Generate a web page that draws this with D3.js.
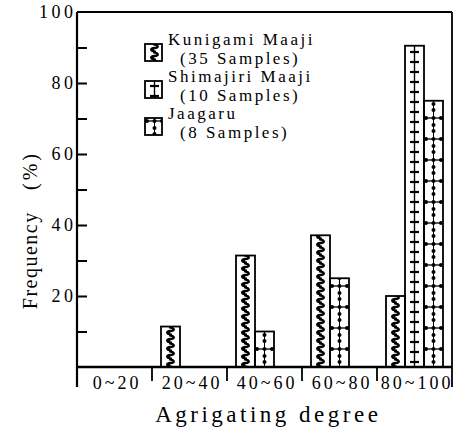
<!DOCTYPE html>
<html>
<head>
<meta charset="utf-8">
<script src="https://cdn.jsdelivr.net/npm/d3@7"></script>
<style>
  svg text { font-family: "Liberation Serif", "Times New Roman", Times, serif !important; }
</style>
</head>
<body style="margin:0">
<script>
// data
var categories = ["0~20", "20~40", "40~60", "60~80", "80~100"];
var seriesNames = ["Kunigami Maaji", "Shimajiri Maaji", "Jaagaru"];
var sampleLabels = ["(35 Samples)", "(10 Samples)", "(8 Samples)"];
var kunigami = [0, 11.4, 31.4, 37.1, 20];
var shimajiri = [0, 0, 0, 0, 90.5];
var jaagaru = [0, 0, 10, 25, 75];
var yLabelTicks = [20, 40, 60, 80, 100];
var yAllTicks = [10, 20, 30, 40, 50, 60, 70, 80, 90];

var seriesValues = [kunigami, shimajiri, jaagaru];
var patternIds = ["pat-wave", "pat-cross", "pat-dots"];

var width = 458, height = 431;
var margin = { top: 12, right: 6, bottom: 64, left: 77 };

var svg = d3.select("body").append("svg")
    .attr("width", width)
    .attr("height", height);

// serif text, letters spread out a bit via textLength
function label(sel, size, spacing) {
    sel.attr("font-family", "Liberation Serif")
        .attr("font-size", size)
        .attr("fill", "#000");
    sel.each(function() {
        var node = this;
        var n = node.textContent.length;
        var w = node.getComputedTextLength();
        if (n > 1 && spacing) {
            d3.select(node)
                .attr("textLength", w + (n - 1) * spacing)
                .attr("lengthAdjust", "spacing");
        }
    });
    return sel;
}

var x = d3.scaleBand()
    .domain(categories)
    .range([margin.left, width - margin.right]);

var y = d3.scaleLinear()
    .domain([0, 100])
    .range([height - margin.bottom, margin.top]);

var barW = 19, barOffset = 9;

// fill patterns
var defs = svg.append("defs");

var p1 = defs.append("pattern").attr("id", "pat-wave")
    .attr("patternUnits", "userSpaceOnUse")
    .attr("width", barW).attr("height", 8);
p1.append("path")
    .attr("d", "M8,0 C14,1 14,4 9.5,4 C5,4 5,7 11,8")
    .attr("fill", "none").attr("stroke", "#000").attr("stroke-width", 2.4);
p1.append("circle").attr("cx", 7.5).attr("cy", 5.8).attr("r", 1.8).attr("fill", "#000");

var p2 = defs.append("pattern").attr("id", "pat-cross")
    .attr("patternUnits", "userSpaceOnUse")
    .attr("width", barW).attr("height", 10);
p2.append("line").attr("x1", 9.5).attr("x2", 9.5).attr("y1", 0).attr("y2", 10)
    .attr("stroke", "#000").attr("stroke-width", 1.4);
p2.append("line").attr("x1", 5).attr("x2", 14).attr("y1", 5).attr("y2", 5)
    .attr("stroke", "#000").attr("stroke-width", 2.2);

var p3 = defs.append("pattern").attr("id", "pat-dots")
    .attr("patternUnits", "userSpaceOnUse")
    .attr("width", barW).attr("height", 21);
p3.append("line").attr("x1", 9.5).attr("x2", 9.5).attr("y1", 0).attr("y2", 21)
    .attr("stroke", "#000").attr("stroke-width", 1);
p3.append("line").attr("x1", 0).attr("x2", barW).attr("y1", 3).attr("y2", 3)
    .attr("stroke", "#000").attr("stroke-width", 1.3);
[[2, 3], [9.5, 3], [17, 3], [9.5, 10], [9.5, 16]].forEach(function(c) {
    p3.append("circle").attr("cx", c[0]).attr("cy", c[1]).attr("r", 2).attr("fill", "#000");
});

// bars: zero-valued series are skipped and the rest packed from the left
var bars = [];
categories.forEach(function(cat, j) {
    var k = 0;
    seriesValues.forEach(function(vals, i) {
        if (vals[j] > 0) {
            bars.push({ cat: cat, series: i, value: vals[j], slot: k });
            k++;
        }
    });
});

var barG = svg.append("g").attr("class", "bars")
    .selectAll("g")
    .data(bars)
    .enter().append("g")
    .attr("transform", function(d) {
        return "translate(" + (x(d.cat) + barOffset + d.slot * barW) + "," + y(0) + ")";
    });

barG.append("rect")
    .attr("x", 0)
    .attr("y", function(d) { return y(d.value) - y(0); })
    .attr("width", barW)
    .attr("height", function(d) { return y(0) - y(d.value); })
    .style("fill", function(d) { return "url(#" + patternIds[d.series] + ")"; })
    .style("stroke", "#000")
    .style("stroke-width", 1.8);

// frame
var x0 = margin.left, x1 = width - margin.right, yTop = margin.top, yBase = y(0);
var frame = svg.append("g").attr("class", "frame")
    .style("stroke", "#000").style("fill", "none");
frame.append("line").attr("x1", x0).attr("x2", x1).attr("y1", yTop).attr("y2", yTop).style("stroke-width", 1.8);
frame.append("line").attr("x1", x0).attr("x2", x0).attr("y1", yTop).attr("y2", yBase + 20).style("stroke-width", 2.2);
frame.append("line").attr("x1", x1).attr("x2", x1).attr("y1", yTop).attr("y2", yBase + 20).style("stroke-width", 1.8);
frame.append("line").attr("x1", x0).attr("x2", x1).attr("y1", yBase).attr("y2", yBase).style("stroke-width", 2.4);

// y axis ticks (inward) and labels
var yAxis = d3.axisRight(y)
    .tickValues(yAllTicks)
    .tickSize(10)
    .tickFormat("");
svg.append("g")
    .attr("transform", "translate(" + x0 + ",0)")
    .call(yAxis)
    .call(function(g) { g.select(".domain").remove(); g.selectAll("text").remove(); })
    .selectAll("line").style("stroke", "#000").style("stroke-width", 2);

svg.append("g").selectAll("text")
    .data(yLabelTicks)
    .enter().append("text")
    .attr("x", x0 - 4)
    .attr("y", function(d) { return y(d) + 6; })
    .attr("text-anchor", "end")
    .text(function(d) { return d; })
    .call(label, 18, 3.5);

// category separators and labels
svg.append("g").selectAll("line")
    .data(categories.slice(1))
    .enter().append("line")
    .attr("x1", function(d) { return x(d); })
    .attr("x2", function(d) { return x(d); })
    .attr("y1", yBase)
    .attr("y2", yBase + 14)
    .style("stroke", "#000").style("stroke-width", 1.8);

svg.append("g").selectAll("text")
    .data(categories)
    .enter().append("text")
    .attr("x", function(d) { return x(d) + x.bandwidth() / 2 + 1; })
    .attr("y", yBase + 22)
    .attr("text-anchor", "middle")
    .text(function(d) { return d; })
    .call(label, 18, 3);

// axis titles
svg.append("text")
    .attr("x", (x0 + x1) / 2 + 2)
    .attr("y", 422)
    .attr("text-anchor", "middle")
    .text("Agrigating degree")
    .call(label, 23, 3.5);

svg.append("text")
    .attr("transform", "translate(37,261) rotate(-90)")
    .attr("text-anchor", "middle")
    .text("Frequency")
    .call(label, 20, 1.5);

svg.append("text")
    .attr("transform", "translate(37,172) rotate(-90)")
    .attr("text-anchor", "middle")
    .text("(%)")
    .call(label, 20, 3);

// legend
var legend = svg.append("g").attr("class", "legend");
seriesNames.forEach(function(name, i) {
    var top = 44 + i * 37;
    var sw = legend.append("g").attr("transform", "translate(145," + top + ")");
    sw.append("rect").attr("width", 17).attr("height", 17)
        .style("fill", "url(#" + patternIds[i] + ")")
        .style("stroke", "#000").style("stroke-width", 1.8);
    legend.append("text")
        .attr("x", 168).attr("y", top + 1)
        .text(name)
        .call(label, 17, 2.5);
    legend.append("text")
        .attr("x", 180).attr("y", top + 20)
        .text(sampleLabels[i])
        .call(label, 17, 2.5);
});
</script>
</body>
</html>
